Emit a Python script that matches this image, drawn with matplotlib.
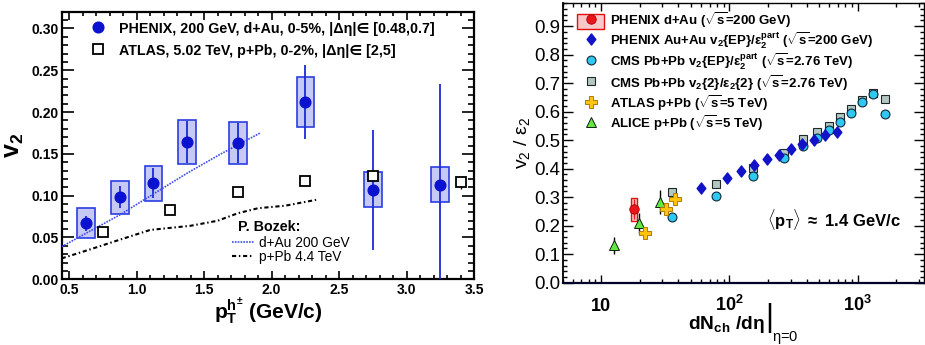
import numpy as np
import matplotlib
matplotlib.use('Agg')
import matplotlib.pyplot as plt
from matplotlib.patches import Rectangle
from matplotlib.lines import Line2D
from matplotlib.path import Path
from matplotlib.legend_handler import HandlerPatch
from matplotlib.ticker import NullFormatter

plt.rcParams['font.family'] = ['Liberation Sans', 'DejaVu Sans']
plt.rcParams['mathtext.fontset'] = 'custom'
plt.rcParams['mathtext.rm'] = 'Liberation Sans'
plt.rcParams['mathtext.bf'] = 'Liberation Sans:bold'
plt.rcParams['mathtext.it'] = 'Liberation Sans:italic'
plt.rcParams['mathtext.sf'] = 'Liberation Sans'
plt.rcParams['mathtext.default'] = 'bf'

# ---------------- left panel: v2 vs pT ----------------
phenix_pt = [0.625, 0.875, 1.125, 1.375, 1.75, 2.25, 2.75, 3.25]
phenix_v2 = [0.067, 0.098, 0.115, 0.164, 0.163, 0.212, 0.107, 0.113]
phenix_stat = [0.009, 0.013, 0.018, 0.025, 0.024, 0.044, 0.072, 0.120]
phenix_sys = [0.018, 0.020, 0.021, 0.026, 0.025, 0.030, 0.021, 0.021]

atlas_pt = [0.75, 1.25, 1.75, 2.25, 2.75, 3.40]
atlas_v2 = [0.056, 0.083, 0.104, 0.117, 0.124, 0.116]
atlas_err = [0.002, 0.002, 0.002, 0.002, 0.003, 0.008]

bozek_dau_pt = [0.445, 0.625, 0.875, 1.125, 1.375, 1.625, 1.916]
bozek_dau_v2 = [0.039, 0.055, 0.077, 0.102, 0.127, 0.150, 0.175]
bozek_ppb_pt = [0.445, 0.66, 0.85, 1.10, 1.40, 1.60, 1.75, 1.90, 2.10, 2.33]
bozek_ppb_v2 = [0.025, 0.036, 0.046, 0.059, 0.064, 0.070, 0.079, 0.085, 0.088, 0.095]

left_xticks = [0.5, 1.0, 1.5, 2.0, 2.5, 3.0, 3.5]
left_yticks = [0.00, 0.05, 0.10, 0.15, 0.20, 0.25, 0.30]

# ---------------- right panel: v2/eps2 vs dNch/deta ----------------
phenix_dau_n = [17.9]
phenix_dau_r = [0.258]
phenix_dau_stat = [0.035]
phenix_dau_sys = [0.040]

phenix_auau_n = [59.5, 95.1, 123, 155.6, 195.5, 245.5, 303, 371, 456, 562, 690]
phenix_auau_r = [0.331, 0.366, 0.393, 0.413, 0.433, 0.447, 0.468, 0.486, 0.500, 0.518, 0.529]

cms_n = [35.9, 78.9, 153.5, 267, 378, 484, 597, 732, 893, 1080, 1320, 1624]
cms_ep_r = [0.231, 0.305, 0.375, 0.438, 0.480, 0.509, 0.535, 0.564, 0.594, 0.634, 0.661, 0.590]
cms_2_r = [0.317, 0.345, 0.401, 0.454, 0.503, 0.529, 0.551, 0.580, 0.609, 0.640, 0.665, 0.646]

atlas_ppb_n = [22.1, 31.8, 37.9]
atlas_ppb_r = [0.173, 0.259, 0.294]

alice_ppb_n = [12.55, 19.7, 28.9]
alice_ppb_r = [0.132, 0.208, 0.282]
alice_ppb_err = [0.030, 0.038, 0.042]

right_yticks = [0.0, 0.1, 0.2, 0.3, 0.4, 0.5, 0.6, 0.7, 0.8, 0.9]

# ---------------- figure ----------------
W, H = 925, 345
fig = plt.figure(figsize=(W / 100, H / 100), dpi=100)
ax1 = fig.add_axes([61.7 / W, 1 - 279.3 / H, (474 - 61.7) / W, (279.3 - 11.7) / H])
ax2 = fig.add_axes([562.7 / W, 1 - 282.7 / H, (924 - 562.7) / W, (282.7 - 3.3) / H])

blue = '#0b12cf'
box_face = '#c6c9f4'
box_edge = '#2b3de2'
dau_style = dict(ls=(0, (1, 0.7)), color='#3b4cef', lw=1.2)
ppb_style = dict(ls=(0, (2.0, 1.3, 0.7, 1.3)), color='black', lw=1.5)

# systematic boxes
for x, y, s in zip(phenix_pt, phenix_v2, phenix_sys):
    ax1.add_patch(Rectangle((x - 0.065, y - s), 0.13, 2 * s, facecolor=box_face,
                            edgecolor=box_edge, lw=1.2, zorder=2))
ax1.errorbar(phenix_pt, phenix_v2, yerr=phenix_stat, fmt='none', ecolor='#1a2bd8',
             elinewidth=1.3, capsize=0, zorder=3)
ax1.plot(phenix_pt, phenix_v2, 'o', color=blue, ms=7.7, mec=blue, zorder=5)

ax1.errorbar(atlas_pt, atlas_v2, yerr=atlas_err, fmt='none', ecolor='black',
             elinewidth=1.0, capsize=0, zorder=3)
ax1.plot(atlas_pt, atlas_v2, 's', mfc='white', mec='black', mew=1.3, ms=6.6, zorder=5)

ax1.plot(bozek_dau_pt, bozek_dau_v2, zorder=4, **dau_style)
ax1.plot(bozek_ppb_pt, bozek_ppb_v2, zorder=4, **ppb_style)

ax1.set_xlim(0.445, 3.5)
ax1.set_ylim(0, 0.32)
ax1.set_xticks(left_xticks, [f'{v:.1f}' for v in left_xticks], fontsize=10, fontweight='bold')
ax1.set_yticks(left_yticks, [f'{v:.2f}' for v in left_yticks], fontsize=10, fontweight='bold')
ax1.set_xticks(np.round(np.arange(0.5, 3.51, 0.1), 2), minor=True)
ax1.set_yticks(np.round(np.arange(0.0, 0.321, 0.01), 3), minor=True)
ax1.tick_params(axis='both', which='both', direction='in', top=True, right=True, width=1.2)
ax1.tick_params(axis='x', which='major', length=5.5, pad=2.5)
ax1.tick_params(axis='x', which='minor', length=2.8)
ax1.tick_params(axis='y', which='major', length=8.6, pad=2)
ax1.tick_params(axis='y', which='minor', length=4.5)
for sp in ax1.spines.values():
    sp.set_linewidth(1.6)

ax1.set_ylabel(r'$v_{2}$', fontsize=18, labelpad=4)
ax1.set_xlabel(r'$p_{T}^{h^{\pm}}$ (GeV/c)', fontsize=15, fontweight='bold', labelpad=0)

h_phenix = Line2D([], [], marker='o', ls='none', color=blue, ms=7.7)
h_atlas = Line2D([], [], marker='s', ls='none', mfc='white', mec='black', mew=1.3, ms=6.6)
leg1 = ax1.legend([h_phenix, h_atlas],
                  ['PHENIX, 200 GeV, d+Au, 0-5%, |Δη|∈ [0.48,0.7]',
                   'ATLAS, 5.02 TeV, p+Pb, 0-2%, |Δη|∈ [2,5]'],
                  loc='upper left', bbox_to_anchor=((86.8 - 61.7) / 412.3, 0.966),
                  frameon=False, prop={'size': 10.3, 'weight': 'bold'},
                  handlelength=1.6, handleheight=1.2, labelspacing=0.5,
                  handletextpad=0.66, borderpad=0, borderaxespad=0)
ax1.add_artist(leg1)

h_bdau = Line2D([], [], **dau_style)
h_bppb = Line2D([], [], **ppb_style)
leg2 = ax1.legend([h_bdau, h_bppb], ['d+Au 200 GeV', 'p+Pb 4.4 TeV'],
                  title='P. Bozek:', loc='lower left',
                  bbox_to_anchor=(0.412, 0.058), frameon=False,
                  prop={'size': 9.9}, title_fontproperties={'size': 10.3, 'weight': 'bold'},
                  alignment='left', handlelength=1.6, handletextpad=0.38,
                  labelspacing=0.0, borderpad=0, borderaxespad=0)
leg2._legend_box.sep = 1
leg2.get_title().set_x(6)

# ---------------- right panel drawing ----------------
red = '#e8161b'
for x, y, s in zip(phenix_dau_n, phenix_dau_r, phenix_dau_sys):
    f = 10 ** 0.024
    ax2.add_patch(Rectangle((x / f, y - s), x * f - x / f, 2 * s, facecolor='#f9c8c8',
                            edgecolor='#e01010', lw=1.0, zorder=3))
ax2.errorbar(phenix_dau_n, phenix_dau_r, yerr=phenix_dau_stat, fmt='none', ecolor=red,
             elinewidth=1.0, capsize=0, zorder=4)
ax2.plot(phenix_dau_n, phenix_dau_r, 'o', color=red, mec='#b00000', mew=0.6, ms=6.8, zorder=6)

ax2.plot(cms_n, cms_2_r, 's', mfc='#b3c6c1', mec='#1e2828', mew=0.8, ms=6.2, zorder=4)
ax2.plot(cms_n, cms_ep_r, 'o', mfc='#2ec8f2', mec='#0c2a3a', mew=0.8, ms=6.4, zorder=5)

diamond = Path([(0, 1), (0.78, 0), (0, -1), (-0.78, 0), (0, 1)],
               [Path.MOVETO, Path.LINETO, Path.LINETO, Path.LINETO, Path.CLOSEPOLY])
ax2.plot(phenix_auau_n, phenix_auau_r, ls='none', marker=diamond, color='#1212c8',
         mec='#1212c8', ms=8.0, zorder=6)

ax2.errorbar(alice_ppb_n, alice_ppb_r, yerr=alice_ppb_err, fmt='none', ecolor='black',
             elinewidth=1.0, capsize=0, zorder=5)
ax2.plot(alice_ppb_n, alice_ppb_r, '^', mfc='#62e83e', mec='#102010', mew=0.7, ms=7.4, zorder=6)
ax2.plot(atlas_ppb_n, atlas_ppb_r, 'P', mfc='#ffc312', mec='#b07a00', mew=0.7, ms=9.0, zorder=7)

ax2.set_xscale('log')
ax2.set_xlim(5, 3300)
ax2.set_ylim(0, 0.98)
ax2.set_yticks(right_yticks, [f'{v:.1f}' for v in right_yticks], fontsize=13.4)
ax2.set_yticks(np.round(np.arange(0, 0.981, 0.02), 3), minor=True)
xmaj = [10, 100, 1000]
ax2.set_xticks(xmaj, ['10', r'$10^{2}$', r'$10^{3}$'], fontsize=13, fontweight='bold',
               va='baseline')
xmin = [k * 10 ** e for e in range(0, 4) for k in range(2, 10) if 5 <= k * 10 ** e <= 3300]
ax2.set_xticks(xmin, minor=True)
ax2.xaxis.set_minor_formatter(NullFormatter())
ax2.tick_params(axis='both', which='both', direction='in', top=True, right=True, width=1.0)
ax2.tick_params(axis='x', which='major', length=5.5, pad=20.5)
ax2.tick_params(axis='x', which='minor', length=2.6)
ax2.tick_params(axis='y', which='major', length=7.2, pad=1.5)
ax2.tick_params(axis='y', which='minor', length=3.0)
for sp in ax2.spines.values():
    sp.set_linewidth(1.0)
ax2.spines['bottom'].set_linewidth(1.6)
ax2.spines['bottom'].set_color('#00002a')
ax2.spines['left'].set_linewidth(1.3)

ax2.set_ylabel(r'$\mathrm{v_{2}\ /\ \varepsilon_{2}}$', fontsize=14, labelpad=2)
ax2.text(0.56, -(329 - 282.7) / 279.4, r'$dN_{ch}$ /d$\eta$', transform=ax2.transAxes,
         ha='right', va='baseline', fontsize=13.8, fontweight='bold')
ax2.text(0.571, -(318 - 282.7) / 279.4, '|', transform=ax2.transAxes, ha='center',
         va='center', fontsize=22, fontweight='normal')
ax2.text(0.578, -(341 - 282.7) / 279.4, r'$\mathrm{\eta}$=0', transform=ax2.transAxes,
         ha='left', va='baseline', fontsize=10.5)

ax2.text((766.7 - 562.7) / 361.3, (282.7 - 220) / 279.4,
         r'$\langle p_{T}\rangle\ \approx$ 1.4 GeV/c', transform=ax2.transAxes,
         ha='left', va='center', fontsize=12, fontweight='bold')


def small_box(legend, orig_handle, xdescent, ydescent, width, height, fontsize):
    return Rectangle((-xdescent, -ydescent + height / 2 - 6), width, 11)


h_box = Rectangle((0, 0), 1, 1, facecolor='#f9c8c8', edgecolor='#e01010', lw=1.0)
h_red = Line2D([], [], marker='o', ls='none', color=red, mec='#b00000', mew=0.6, ms=6.8)
h_dia = Line2D([], [], marker=diamond, ls='none', color='#1212c8', ms=8.0)
h_ep = Line2D([], [], marker='o', ls='none', mfc='#2ec8f2', mec='#0c2a3a', mew=0.8, ms=6.4)
h_c2 = Line2D([], [], marker='s', ls='none', mfc='#b3c6c1', mec='#1e2828', mew=0.8, ms=6.2)
h_at = Line2D([], [], marker='P', ls='none', mfc='#ffc312', mec='#b07a00', mew=0.7, ms=9.0)
h_al = Line2D([], [], marker='^', ls='none', mfc='#62e83e', mec='#102010', mew=0.7, ms=7.4)

labels = [r'PHENIX d+Au ($\sqrt{s}$=200 GeV)',
          r'PHENIX Au+Au $v_{2}\{EP\}/\varepsilon_{2}^{part}$ ($\sqrt{s}$=200 GeV)',
          r'CMS Pb+Pb $v_{2}\{EP\}/\varepsilon_{2}^{part}$ ($\sqrt{s}$=2.76 TeV)',
          r'CMS Pb+Pb $v_{2}\{2\}/\varepsilon_{2}\{2\}$ ($\sqrt{s}$=2.76 TeV)',
          r'ATLAS p+Pb ($\sqrt{s}$=5 TeV)',
          r'ALICE p+Pb ($\sqrt{s}$=5 TeV)']
ax2.legend([(h_box, h_red), h_dia, h_ep, h_c2, h_at, h_al], labels,
           handler_map={Rectangle: HandlerPatch(patch_func=small_box)},
           loc='upper left', bbox_to_anchor=((577 - 562.7) / 361.3, 0.975),
           frameon=False, prop={'size': 9.5, 'weight': 'bold'},
           handlelength=2.05, handleheight=1.55, labelspacing=0.05,
           handletextpad=0.45, borderpad=0, borderaxespad=0)

fig.savefig('out.png', dpi=100)
